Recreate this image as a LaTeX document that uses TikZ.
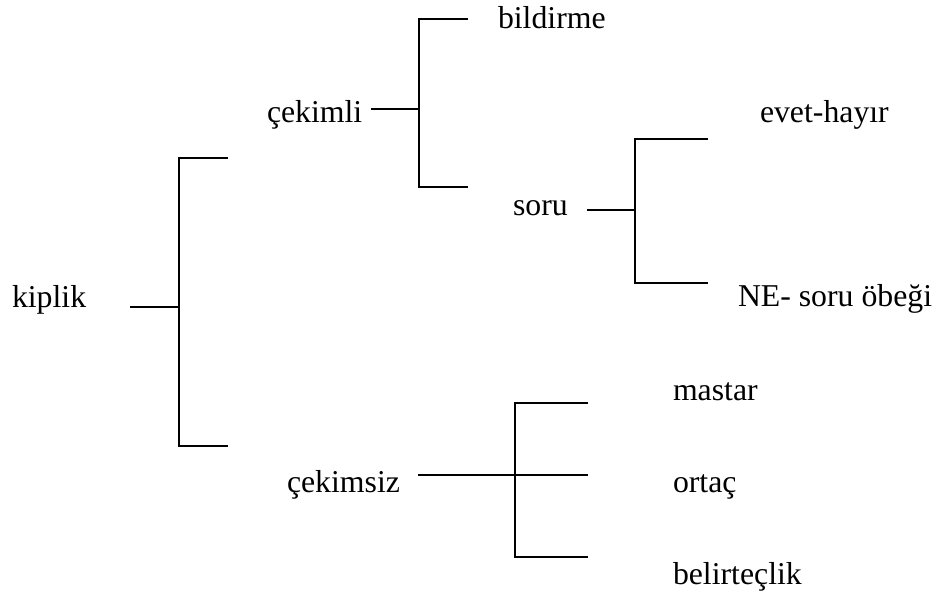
\documentclass[tikz,border=0pt]{standalone}
\usepackage{fontspec}
\setmainfont{Liberation Serif}
\usetikzlibrary{calc}

\tikzset{
	lbl/.style={anchor=base west, inner sep=0pt, outer sep=0pt},
	brace/.style={line width=1.4pt, line cap=butt}
}

\begin{document}
\begin{tikzpicture}[font=\fontsize{22.6}{26}\selectfont]
		
		\useasboundingbox (0,0) rectangle (23.375,14.9);
		
		% --- labels of the tree ---
		\node[lbl] (kiplik) at (0.30,7.20) {kiplik};
		\node[lbl] (cekimli) at (6.675,11.825) {çekimli};
		\node[lbl] (bildirme) at (12.45,14.175) {bildirme};
		\node[lbl] (soru) at (12.825,9.50) {soru};
		\node[lbl] (evet) at (19.0,11.825) {evet-hayır};
		\node[lbl] (ne) at (18.45,7.225) {NE- soru öbeği};
		\node[lbl] (cekimsiz) at (7.175,2.575) {çekimsiz};
		\node[lbl] (mastar) at (16.825,4.875) {mastar};
		\node[lbl] (ortac) at (16.825,2.575) {ortaç};
		\node[lbl] (belirtec) at (16.825,0.275) {belirteçlik};
		
		% --- kiplik: two branches ---
		\coordinate (kStem) at (3.25,7.225);
		\coordinate (kJoin) at (4.475,7.225);
		\coordinate (kUp) at (4.475,10.95);
		\coordinate (kDown) at (4.475,3.75);
		\coordinate (kUpEnd) at (5.70,10.95);
		\coordinate (kDownEnd) at (5.70,3.75);
		\draw[brace] (kStem) -- (kJoin);
		\draw[brace] (kUpEnd) -- (kUp) -- (kDown) -- (kDownEnd);
		
		% --- çekimli: bildirme / soru ---
		\coordinate (cStem) at (9.275,12.175);
		\coordinate (cJoin) at (10.475,12.175);
		\coordinate (cUp) at (10.475,14.425);
		\coordinate (cDown) at (10.475,10.225);
		\coordinate (cUpEnd) at (11.70,14.425);
		\coordinate (cDownEnd) at (11.70,10.225);
		\draw[brace] (cStem) -- (cJoin);
		\draw[brace] (cUpEnd) -- (cUp) -- (cDown) -- (cDownEnd);
		
		% --- soru: evet-hayır / NE- soru öbeği ---
		\coordinate (sStem) at (14.675,9.65);
		\coordinate (sJoin) at (15.875,9.65);
		\coordinate (sUp) at (15.875,11.425);
		\coordinate (sDown) at (15.875,7.825);
		\coordinate (sUpEnd) at (17.70,11.425);
		\coordinate (sDownEnd) at (17.70,7.825);
		\draw[brace] (sStem) -- (sJoin);
		\draw[brace] (sUpEnd) -- (sUp) -- (sDown) -- (sDownEnd);
		
		% --- çekimsiz: three branches, stem runs through the bar ---
		\coordinate (zStem) at (10.45,3.025);
		\coordinate (zMidEnd) at (14.70,3.025);
		\coordinate (zUp) at (12.875,4.825);
		\coordinate (zDown) at (12.875,0.975);
		\coordinate (zUpEnd) at (14.70,4.825);
		\coordinate (zDownEnd) at (14.70,0.975);
		\draw[brace] (zStem) -- (zMidEnd);
		\draw[brace] (zUpEnd) -- (zUp) -- (zDown) -- (zDownEnd);
		
	\end{tikzpicture}
\end{document}
